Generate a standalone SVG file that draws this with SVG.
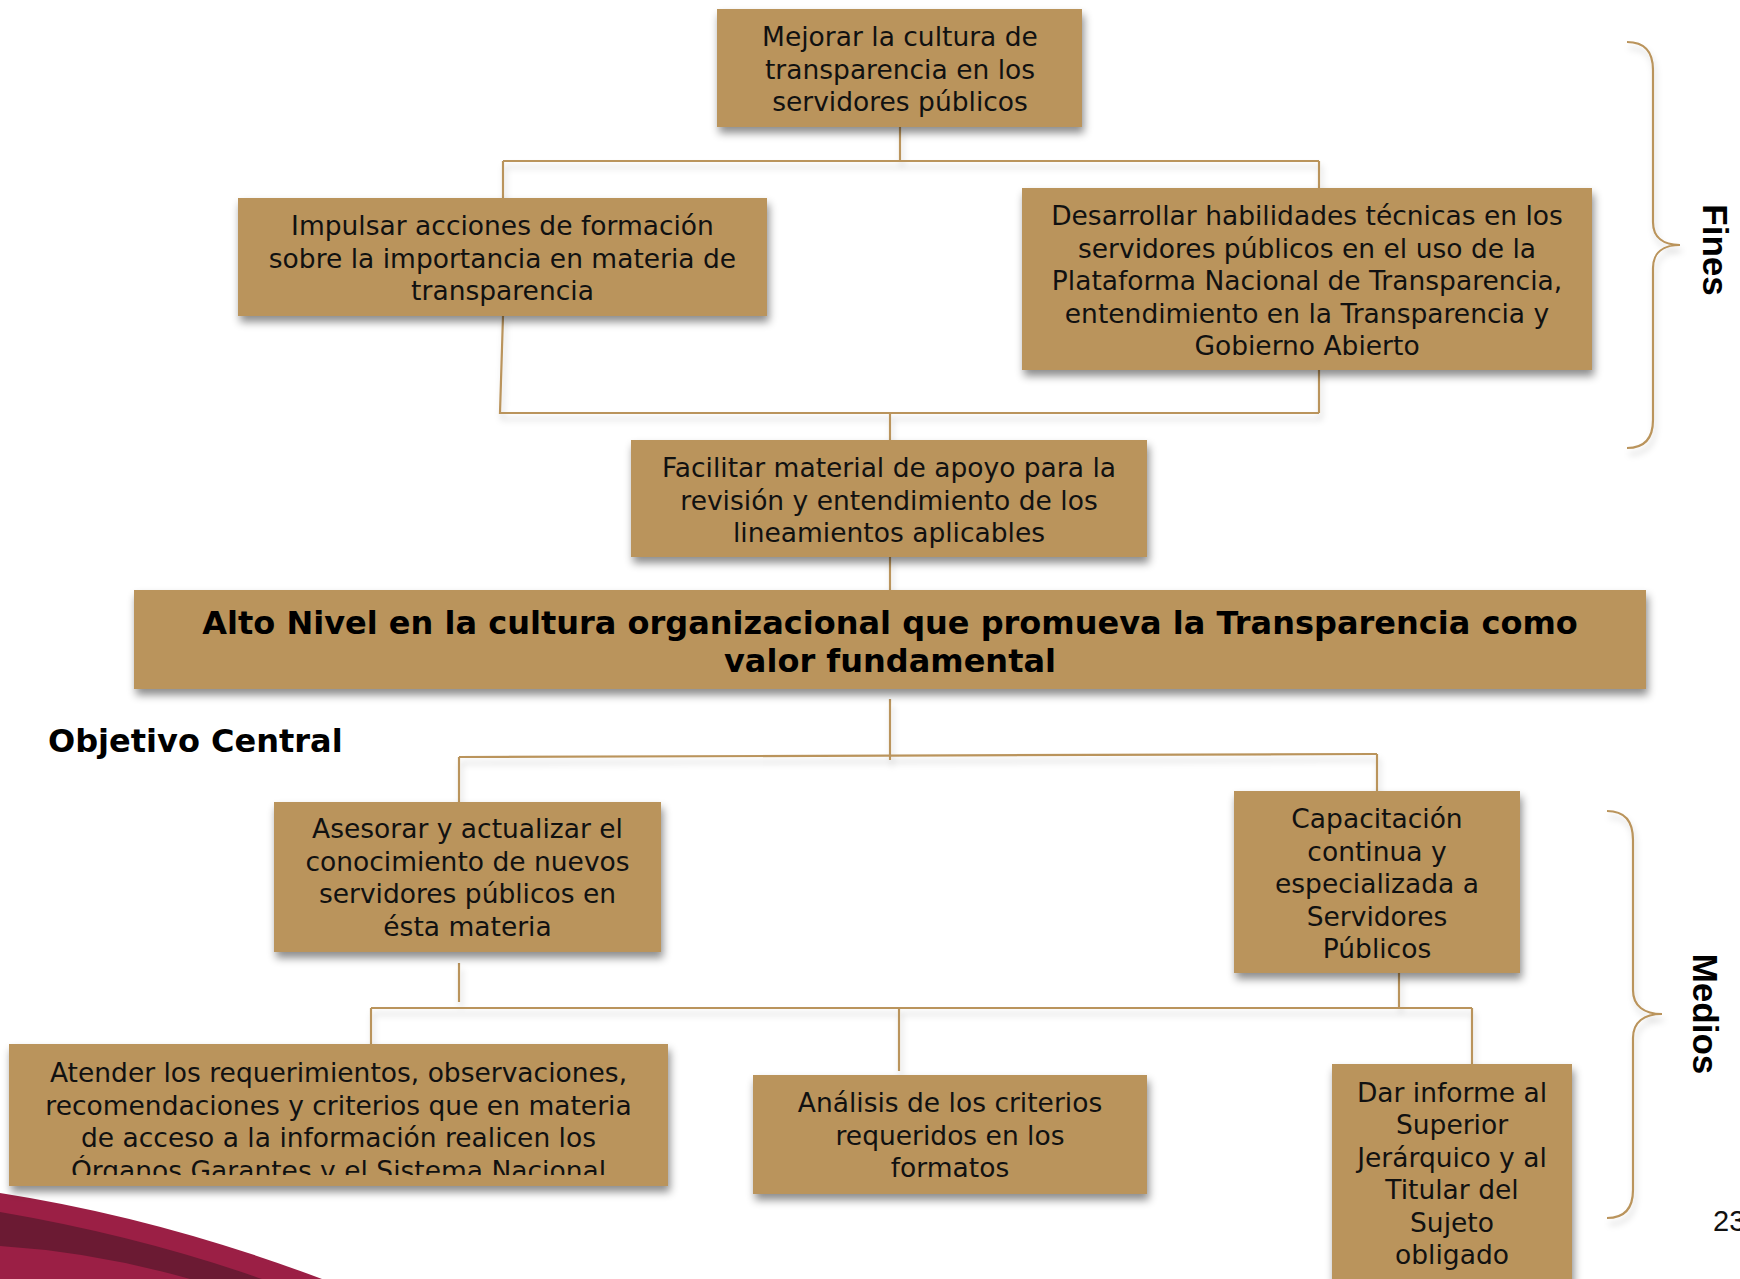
<svg xmlns="http://www.w3.org/2000/svg" width="1740" height="1279" viewBox="0 0 1740 1279">
<style>
.box{fill:#BA945C;filter:url(#sh)}
.t{font-family:"DejaVu Sans",Verdana,sans-serif;font-size:26.5px;fill:#111;text-anchor:middle}
.tb{font-family:"DejaVu Sans",Verdana,sans-serif;font-size:32px;font-weight:bold;fill:#000}
.side{font-family:"Liberation Sans",Arial,sans-serif;font-size:35px;font-weight:bold;fill:#000;text-anchor:middle}
.ln{fill:none;stroke:#BA945C;stroke-width:2.2}
</style>
<defs>
<filter id="sh" x="-10%" y="-20%" width="120%" height="150%">
<feDropShadow dx="2" dy="6" stdDeviation="4" flood-color="#000" flood-opacity="0.45"/>
</filter>
<filter id="lsh" x="-10%" y="-50%" width="120%" height="300%">
<feDropShadow dx="2" dy="6" stdDeviation="3" flood-color="#000" flood-opacity="0.18"/>
</filter>
<clipPath id="clipAt"><rect x="9" y="1044" width="659" height="131"/></clipPath>
</defs>
<rect width="1740" height="1279" fill="#fff"/>
<g id="swoosh">
<path d="M0,1193 Q160,1218 322,1279 L0,1279 Z" fill="#9B1F45"/>
<path d="M0,1212 Q140,1236 262,1279 L190,1279 Q95,1252 0,1246 Z" fill="#6B1A33"/>
</g>
<g id="connectors" filter="url(#lsh)">
<path class="ln" d="M900,127 V161"/>
<path class="ln" d="M503,161 H1319"/>
<path class="ln" d="M503,161 V198"/>
<path class="ln" d="M1319,161 V188"/>
<path class="ln" d="M503,316 L500,413 H1319"/>
<path class="ln" d="M1319,370 V413"/>
<path class="ln" d="M890,413 V440"/>
<path class="ln" d="M890,557 V590"/>
<path class="ln" d="M890,699 V760"/>
<path class="ln" d="M459,757 L1377,754"/>
<path class="ln" d="M459,757 V802"/>
<path class="ln" d="M1377,754 V791"/>
<path class="ln" d="M459,963 V1002"/>
<path class="ln" d="M371,1008 H1472"/>
<path class="ln" d="M371,1008 V1044"/>
<path class="ln" d="M899,1008 V1071"/>
<path class="ln" d="M1399,973 V1008"/>
<path class="ln" d="M1472,1008 V1064"/>
<path class="ln" d="M1627,42 C1645,42 1653,52 1653,70 L1653,222 C1653,238 1664,245 1680,245 C1664,245 1653,252 1653,268 L1653,420 C1653,438 1645,448 1627,448"/>
<path class="ln" d="M1607,811 C1625,811 1633,821 1633,840 L1633,990 C1633,1006 1644,1014 1662,1014 C1644,1014 1633,1022 1633,1038 L1633,1190 C1633,1208 1625,1218 1607,1218"/>
</g>
<g id="n1">
<rect class="box" x="717" y="9" width="365" height="118"/>
<text class="t" x="900" y="46">Mejorar la cultura de</text>
<text class="t" x="900" y="78.5">transparencia en los</text>
<text class="t" x="900" y="111">servidores públicos</text>
</g>
<g id="n2">
<rect class="box" x="238" y="198" width="529" height="118"/>
<text class="t" x="502.5" y="235">Impulsar acciones de formación</text>
<text class="t" x="502.5" y="267.5">sobre la importancia en materia de</text>
<text class="t" x="502.5" y="300">transparencia</text>
</g>
<g id="n3">
<rect class="box" x="1022" y="188" width="570" height="182"/>
<text class="t" x="1307" y="225">Desarrollar habilidades técnicas en los</text>
<text class="t" x="1307" y="257.5">servidores públicos en el uso de la</text>
<text class="t" x="1307" y="290">Plataforma Nacional de Transparencia,</text>
<text class="t" x="1307" y="322.5">entendimiento en la Transparencia y</text>
<text class="t" x="1307" y="355">Gobierno Abierto</text>
</g>
<g id="n4">
<rect class="box" x="631" y="440" width="516" height="117"/>
<text class="t" x="889" y="477">Facilitar material de apoyo para la</text>
<text class="t" x="889" y="509.5">revisión y entendimiento de los</text>
<text class="t" x="889" y="542">lineamientos aplicables</text>
</g>
<g id="n5">
<rect class="box" x="134" y="590" width="1512" height="99"/>
<text class="tb" x="890" y="634" text-anchor="middle">Alto Nivel en la cultura organizacional que promueva la Transparencia como</text>
<text class="tb" x="890" y="672" text-anchor="middle">valor fundamental</text>
</g>
<g id="lbl-objetivo">
<text class="tb" x="48" y="752">Objetivo Central</text>
</g>
<g id="n6">
<rect class="box" x="274" y="802" width="387" height="150"/>
<text class="t" x="467.5" y="838">Asesorar y actualizar el</text>
<text class="t" x="467.5" y="870.5">conocimiento de nuevos</text>
<text class="t" x="467.5" y="903">servidores públicos en</text>
<text class="t" x="467.5" y="935.5">ésta materia</text>
</g>
<g id="n7">
<rect class="box" x="1234" y="791" width="286" height="182"/>
<text class="t" x="1377" y="828">Capacitación</text>
<text class="t" x="1377" y="860.5">continua y</text>
<text class="t" x="1377" y="893">especializada a</text>
<text class="t" x="1377" y="925.5">Servidores</text>
<text class="t" x="1377" y="958">Públicos</text>
</g>
<g id="n8">
<rect class="box" x="9" y="1044" width="659" height="142"/>
<g clip-path="url(#clipAt)">
<text class="t" x="338.5" y="1082">Atender los requerimientos, observaciones,</text>
<text class="t" x="338.5" y="1114.5">recomendaciones y criterios que en materia</text>
<text class="t" x="338.5" y="1147">de acceso a la información realicen los</text>
<text class="t" x="338.5" y="1179.5">Órganos Garantes y el Sistema Nacional</text>
</g>
</g>
<g id="n9">
<rect class="box" x="753" y="1075" width="394" height="119"/>
<text class="t" x="950" y="1112">Análisis de los criterios</text>
<text class="t" x="950" y="1144.5">requeridos en los</text>
<text class="t" x="950" y="1177">formatos</text>
</g>
<g id="n10">
<rect class="box" x="1332" y="1064" width="240" height="230"/>
<text class="t" x="1452" y="1102">Dar informe al</text>
<text class="t" x="1452" y="1134.4">Superior</text>
<text class="t" x="1452" y="1166.8">Jerárquico y al</text>
<text class="t" x="1452" y="1199.2">Titular del</text>
<text class="t" x="1452" y="1231.6">Sujeto</text>
<text class="t" x="1452" y="1264">obligado</text>
</g>
<g id="lbl-fines">
<text class="side" transform="translate(1703,250) rotate(90)">Fines</text>
</g>
<g id="lbl-medios">
<text class="side" transform="translate(1693,1014) rotate(90)">Medios</text>
</g>
<g id="pagenum">
<text x="1713" y="1231" font-family="Liberation Sans, Arial, sans-serif" font-size="29" fill="#111">23</text>
</g>
</svg>
